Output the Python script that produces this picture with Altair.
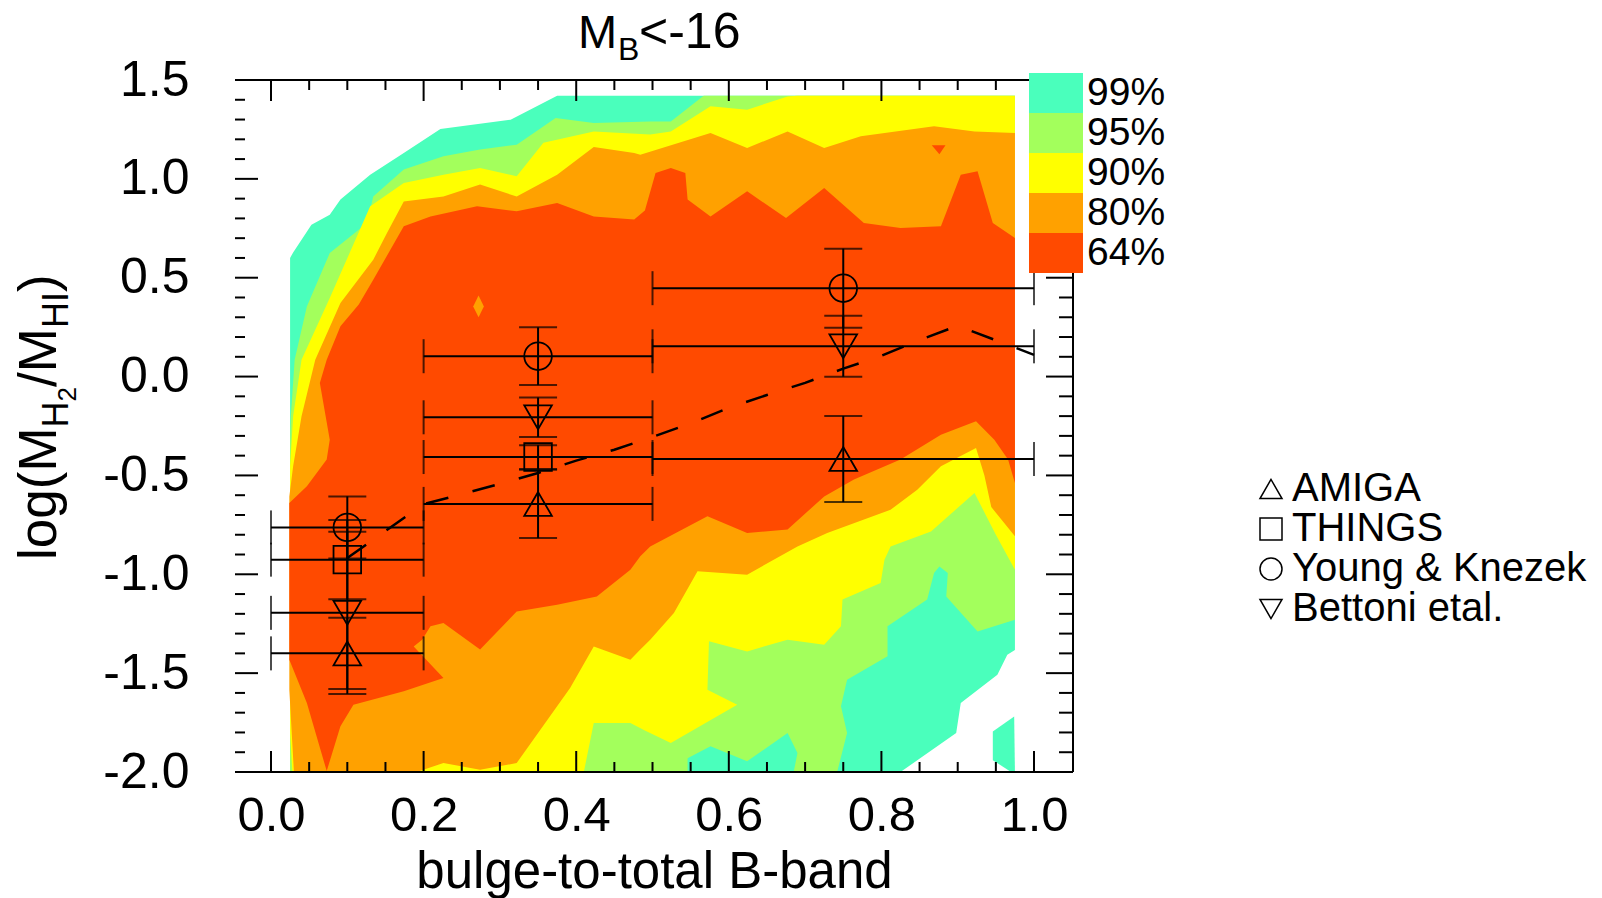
import altair as alt
import pandas as pd

# ------------------------------------------------------------------ data
LEVELS = ["99%", "95%", "90%", "80%", "64%"]
LEVEL_COLORS = ["#4affbc", "#a3ff5c", "#ffff00", "#ffa100", "#ff4a00"]

# contour regions (x = bulge-to-total, y = log ratio)
POLY_99 = [(0.025, -2.0), (0.025, 0.60), (0.029, 0.628), (0.053, 0.768), (0.077, 0.819),
           (0.091, 0.895), (0.130, 1.021), (0.174, 1.131), (0.222, 1.252), (0.314, 1.299),
           (0.375, 1.42), (0.975, 1.42), (0.975, -1.383), (0.965, -1.407), (0.952, -1.508),
           (0.904, -1.651), (0.898, -1.803), (0.825, -2.0)]
POLY_99_CORNER = [(0.946, -1.795), (0.974, -1.719), (0.975, -2.0), (0.970, -2.0), (0.946, -1.94)]
POLY_95 = [(0.025, -2.0), (0.025, -0.37), (0.026, -0.20), (0.031, 0.085), (0.047, 0.355),
           (0.077, 0.625), (0.126, 0.777), (0.134, 0.911), (0.174, 1.047), (0.226, 1.114),
           (0.274, 1.148), (0.322, 1.173), (0.373, 1.308), (0.423, 1.283), (0.497, 1.29),
           (0.524, 1.29), (0.567, 1.42), (0.975, 1.42), (0.975, -1.23), (0.926, -1.289),
           (0.885, -1.112), (0.887, -0.993), (0.876, -0.96), (0.869, -0.993), (0.860, -1.128),
           (0.808, -1.263), (0.808, -1.415), (0.755, -1.533), (0.747, -1.668), (0.755, -1.803),
           (0.742, -2.0), (0.685, -2.0), (0.690, -1.904), (0.677, -1.803), (0.624, -1.946),
           (0.576, -1.87), (0.546, -1.93), (0.546, -2.0)]
POLY_90 = [(0.028, -2.0), (0.025, -1.80), (0.025, -0.454), (0.029, -0.201), (0.040, 0.085),
           (0.077, 0.398), (0.130, 0.861), (0.174, 0.979), (0.226, 1.021), (0.274, 1.055),
           (0.322, 1.013), (0.357, 1.182), (0.423, 1.240), (0.497, 1.224), (0.524, 1.240),
           (0.576, 1.367), (0.624, 1.350), (0.677, 1.417), (0.690, 1.42), (0.975, 1.42),
           (0.975, -0.977), (0.950, -0.80), (0.922, -0.589), (0.865, -0.783), (0.812, -0.859),
           (0.804, -0.926), (0.799, -1.044), (0.749, -1.128), (0.747, -1.263), (0.725, -1.356),
           (0.677, -1.331), (0.624, -1.390), (0.574, -1.339), (0.572, -1.584), (0.611, -1.660),
           (0.524, -1.853), (0.490, -1.79), (0.471, -1.752), (0.423, -1.752), (0.410, -2.0)]
POLY_80 = [(0.030, -2.0), (0.024, -1.584), (0.024, -0.606), (0.029, -0.454), (0.040, -0.201),
           (0.058, 0.085), (0.091, 0.372), (0.134, 0.591), (0.152, 0.726), (0.174, 0.886),
           (0.226, 0.911), (0.274, 0.971), (0.322, 0.911), (0.375, 1.021), (0.423, 1.161),
           (0.476, 1.131), (0.484, 1.122), (0.576, 1.232), (0.624, 1.156), (0.677, 1.240),
           (0.725, 1.156), (0.773, 1.215), (0.869, 1.266), (0.922, 1.240), (0.975, 1.232),
           (0.975, -0.808), (0.944, -0.66), (0.935, -0.50), (0.924, -0.361), (0.878, -0.454),
           (0.847, -0.572), (0.812, -0.673), (0.729, -0.791), (0.690, -0.859), (0.624, -1.002),
           (0.559, -0.985), (0.528, -1.196), (0.497, -1.331), (0.484, -1.38), (0.471, -1.432),
           (0.423, -1.365), (0.392, -1.575), (0.322, -1.955), (0.274, -1.988), (0.226, -1.955),
           (0.191, -2.0)]
POLY_64 = [(0.073, 0.085), (0.091, 0.254), (0.115, 0.364), (0.134, 0.490), (0.154, 0.625),
           (0.174, 0.760), (0.209, 0.810), (0.270, 0.861), (0.322, 0.836), (0.375, 0.878),
           (0.423, 0.810), (0.476, 0.794), (0.490, 0.84), (0.504, 1.03), (0.524, 1.055),
           (0.543, 1.030), (0.546, 0.895), (0.576, 0.810), (0.624, 0.937), (0.675, 0.802),
           (0.725, 0.954), (0.777, 0.777), (0.825, 0.752), (0.878, 0.760), (0.904, 1.021),
           (0.926, 1.038), (0.946, 0.777), (0.975, 0.701), (0.975, -0.538), (0.966, -0.42),
           (0.948, -0.319), (0.924, -0.226), (0.878, -0.294), (0.825, -0.42), (0.764, -0.521),
           (0.725, -0.606), (0.677, -0.774), (0.624, -0.791), (0.572, -0.707), (0.497, -0.86),
           (0.484, -0.909), (0.471, -0.977), (0.427, -1.112), (0.375, -1.154), (0.322, -1.188),
           (0.274, -1.381), (0.226, -1.246), (0.209, -1.263), (0.198, -1.331), (0.187, -1.365),
           (0.226, -1.525), (0.174, -1.592), (0.108, -1.660), (0.091, -1.769), (0.073, -1.995),
           (0.047, -1.651), (0.024, -1.432), (0.024, -0.639), (0.047, -0.555), (0.073, -0.420),
           (0.077, -0.319), (0.064, -0.032)]
POLY_80_ISLAND = [(0.272, 0.41), (0.279, 0.355), (0.272, 0.30), (0.265, 0.355)]
POLY_64_ISLAND = [(0.866, 1.17), (0.884, 1.17), (0.876, 1.125)]

# binned measurements
BIN_LO = [0.0, 0.2, 0.5]
BIN_HI = [0.2, 0.5, 1.0]
BIN_MID = [0.1, 0.35, 0.75]
SURVEYS = ["AMIGA", "THINGS", "Young & Knezek", "Bettoni etal."]
SHAPES = ["triangle-up", "square", "circle", "triangle-down"]
AMIGA_Y = [-1.40, -0.644, -0.417]
AMIGA_ERR = [0.18, 0.173, 0.218]
THINGS_Y = [-0.926, -0.407]
THINGS_ERR = [0.20, 0.06]
YOUNG_Y = [-0.763, 0.103, 0.447]
YOUNG_ERR = [0.157, 0.146, 0.20]
BETTONI_Y = [-1.195, -0.206, 0.153]
BETTONI_ERR = [0.41, 0.10, 0.154]

# dashed relation
DASH_X = [0.10, 0.20, 0.25, 0.30, 0.35, 0.40, 0.45, 0.50, 0.55, 0.60, 0.65, 0.70, 0.75,
          0.80, 0.85, 0.90, 1.00]
DASH_Y = [-0.918, -0.645, -0.595, -0.543, -0.488, -0.425, -0.37, -0.305, -0.237, -0.158,
          -0.093, -0.032, 0.04, 0.105, 0.185, 0.257, 0.11]

# axis ticks
X_MAJOR = [0.0, 0.2, 0.4, 0.6, 0.8, 1.0]
X_MINOR = [0.05, 0.1, 0.15, 0.25, 0.3, 0.35, 0.45, 0.5, 0.55, 0.65, 0.7, 0.75, 0.85, 0.9, 0.95]
Y_MAJOR = [-2.0, -1.5, -1.0, -0.5, 0.0, 0.5, 1.0, 1.5]
Y_MINOR = [-1.9, -1.8, -1.7, -1.6, -1.4, -1.3, -1.2, -1.1, -0.9, -0.8, -0.7, -0.6,
           -0.4, -0.3, -0.2, -0.1, 0.1, 0.2, 0.3, 0.4, 0.6, 0.7, 0.8, 0.9,
           1.1, 1.2, 1.3, 1.4]

# ------------------------------------------------------------------ layout
W, H = 838, 692
FONT = "Liberation Sans"
XSCALE = alt.Scale(domain=[-0.0472, 1.0511], nice=False, zero=False)
YSCALE = alt.Scale(domain=[-2.0, 1.5], nice=False, zero=False)
XAXIS = alt.Axis(values=X_MAJOR, format=".1f", labelFontSize=49, labelFont=FONT,
                 labelColor="black", labelPadding=19, ticks=False, domain=False, grid=False,
                 labelFlush=False, labelOverlap=False,
                 title="bulge-to-total B-band", titleFontSize=51, titleFont=FONT,
                 titleFontWeight="normal", titleColor="black", titleY=115,
                 titleBaseline="alphabetic")
YAXIS = alt.Axis(values=Y_MAJOR, labelExpr="datum.value < 0 ? '-' + format(-datum.value, '.1f') : format(datum.value, '.1f')",
                 labelFontSize=50, labelFont=FONT, labelColor="black", labelPadding=46,
                 ticks=False, domain=False, grid=False, labelFlush=False, labelOverlap=False,
                 title=None)


def X(f):
    return alt.X(f"{f}:Q", scale=XSCALE, axis=XAXIS)


def Y(f):
    return alt.Y(f"{f}:Q", scale=YSCALE, axis=YAXIS)


FILL_LEGEND = alt.Legend(orient="none", legendX=794, legendY=-7, title=None, direction="vertical",
                         symbolType="M-1,-0.75L1,-0.75L1,0.75L-1,0.75Z", symbolSize=2916,
                         symbolStrokeWidth=0, symbolOpacity=1, rowPadding=0, padding=0,
                         clipHeight=40,
                         labelFontSize=39, labelFont=FONT, labelColor="black", labelOffset=4,
                         labelLimit=400)
FILL = alt.Fill("level:N", scale=alt.Scale(domain=LEVELS, range=LEVEL_COLORS), legend=FILL_LEGEND)

layers = []
for poly, lvl in [(POLY_99, "99%"), (POLY_99_CORNER, "99%"), (POLY_95, "95%"), (POLY_90, "90%"),
                  (POLY_80, "80%"), (POLY_64, "64%"), (POLY_80_ISLAND, "80%"),
                  (POLY_64_ISLAND, "64%")]:
    df = pd.DataFrame({"x": [p[0] for p in poly], "y": [p[1] for p in poly],
                       "i": list(range(len(poly))), "level": lvl})
    layers.append(alt.Chart(df).mark_line(filled=True, strokeWidth=0, interpolate="linear").encode(
        x=X("x"), y=Y("y"), order=alt.Order("i:Q"), fill=FILL))

# frame (top, bottom, right)
one = pd.DataFrame({"a": [0]})
layers.append(alt.Chart(one).mark_rule(color="black", strokeWidth=2).encode(
    x=alt.value(0), x2=alt.value(W), y=alt.value(0)))
layers.append(alt.Chart(one).mark_rule(color="black", strokeWidth=2).encode(
    x=alt.value(0), x2=alt.value(W), y=alt.value(H)))
layers.append(alt.Chart(one).mark_rule(color="black", strokeWidth=2).encode(
    x=alt.value(W), y=alt.value(0), y2=alt.value(H)))

# inward ticks
xmaj = pd.DataFrame({"v": X_MAJOR})
xmin = pd.DataFrame({"v": X_MINOR})
ymaj = pd.DataFrame({"v": Y_MAJOR})
ymin = pd.DataFrame({"v": Y_MINOR})
for d, ln in [(xmaj, 21), (xmin, 10)]:
    layers.append(alt.Chart(d).mark_rule(color="black", strokeWidth=2).encode(
        x=X("v"), y=alt.value(H), y2=alt.value(H - ln)))
    layers.append(alt.Chart(d).mark_rule(color="black", strokeWidth=2).encode(
        x=X("v"), y=alt.value(0), y2=alt.value(ln)))
for d, ln, lr in [(ymaj, 23, 27), (ymin, 10, 14)]:
    layers.append(alt.Chart(d).mark_rule(color="black", strokeWidth=2).encode(
        y=Y("v"), x=alt.value(0), x2=alt.value(ln)))
    layers.append(alt.Chart(d).mark_rule(color="black", strokeWidth=2).encode(
        y=Y("v"), x=alt.value(W), x2=alt.value(W - lr)))

# measurements table
rows = []
for name, ys, es in [("AMIGA", AMIGA_Y, AMIGA_ERR), ("THINGS", THINGS_Y, THINGS_ERR),
                     ("Young & Knezek", YOUNG_Y, YOUNG_ERR), ("Bettoni etal.", BETTONI_Y, BETTONI_ERR)]:
    for k, (yv, ev) in enumerate(zip(ys, es)):
        rows.append({"survey": name, "xlo": BIN_LO[k], "xhi": BIN_HI[k], "xmid": BIN_MID[k],
                     "y": yv, "ylo": yv - ev, "yhi": yv + ev})
meas = pd.DataFrame(rows)

base = alt.Chart(meas)
layers.append(base.mark_rule(color="black", strokeWidth=2).encode(
    x=X("xlo"), x2=alt.X2("xhi:Q"), y=Y("y")))
layers.append(base.mark_tick(color="black", orient="vertical", size=34, thickness=2).encode(
    x=X("xlo"), y=Y("y")))
layers.append(base.mark_tick(color="black", orient="vertical", size=34, thickness=2).encode(
    x=X("xhi"), y=Y("y")))
layers.append(base.mark_rule(color="black", strokeWidth=2).encode(
    x=X("xmid"), y=Y("ylo"), y2=alt.Y2("yhi:Q")))
layers.append(base.mark_tick(color="black", orient="horizontal", size=38, thickness=2).encode(
    x=X("xmid"), y=Y("ylo")))
layers.append(base.mark_tick(color="black", orient="horizontal", size=38, thickness=2).encode(
    x=X("xmid"), y=Y("yhi")))

SHAPE_LEGEND = alt.Legend(orient="none", legendX=1016, legendY=389, title=None, direction="vertical",
                          symbolSize=484, symbolStrokeColor="black", symbolStrokeWidth=1.5,
                          symbolFillColor="transparent", rowPadding=0, padding=0,
                          labelFontSize=40, labelFont=FONT, labelColor="black", labelOffset=1,
                          labelLimit=400)
layers.append(base.mark_point(color="black", filled=False, size=760, strokeWidth=1.8, opacity=1).encode(
    x=X("xmid"), y=Y("y"),
    shape=alt.Shape("survey:N", scale=alt.Scale(domain=SURVEYS, range=SHAPES), legend=SHAPE_LEGEND)))

dash = pd.DataFrame({"x": DASH_X, "y": DASH_Y})
layers.append(alt.Chart(dash).mark_line(color="black", strokeWidth=2.5, strokeDash=[23, 25]).encode(
    x=X("x"), y=Y("y")))


def txt(t, x, y, size, angle=0):
    return alt.Chart(pd.DataFrame({"t": [t]})).mark_text(
        font=FONT, fontSize=size, color="black", align="left", baseline="alphabetic",
        angle=angle).encode(text="t:N", x=alt.value(x), y=alt.value(y))


# title  M_B<-16
layers += [txt("M", 343, -32, 47), txt("B", 383, -20, 32), txt("<-16", 404, -32, 50)]
# y title  log(M_H2/M_HI)
layers += [txt("log(M", -179, 480, 53, 270), txt("H", -167, 347.5, 36, 270),
           txt("2", -159, 321.5, 26, 270), txt("/M", -179, 307, 53, 270),
           txt("HI", -167, 248, 36, 270), txt(")", -179, 212, 53, 270)]

chart = alt.layer(*layers).properties(
    width=W, height=H,
    padding={"left": 235, "top": 80, "right": 529, "bottom": 126},
    autosize=alt.AutoSizeParams(type="none"),
    background="white",
).configure_view(stroke="transparent")

chart.save("out.html", embed_options={"renderer": "svg", "actions": False})
